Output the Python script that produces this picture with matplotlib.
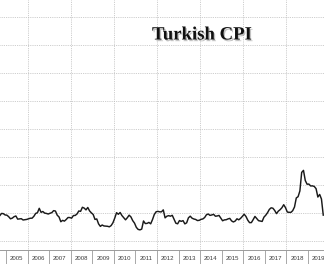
import numpy as np
import matplotlib
matplotlib.use("Agg")
import matplotlib.pyplot as plt
import matplotlib.patheffects as pe
from matplotlib.ticker import FixedLocator, NullFormatter

# Turkish CPI, YoY %, monthly, Jan 2004 - Sep 2019
cpi_2004 = [16.22, 14.28, 11.83, 10.18, 8.88, 8.93, 9.57, 10.04, 9.02, 9.86, 9.79, 9.32]
cpi_2005 = [9.24, 8.69, 7.94, 8.18, 8.70, 8.95, 7.82, 7.91, 7.99, 7.52, 7.61, 7.72]
cpi_2006 = [7.93, 8.15, 8.16, 8.83, 9.86, 10.12, 11.69, 10.26, 10.55, 9.98, 9.86, 9.65]
cpi_2007 = [9.93, 10.16, 10.86, 10.72, 9.23, 8.60, 6.90, 7.39, 7.12, 7.70, 8.40, 8.39]
cpi_2008 = [8.17, 9.10, 9.15, 9.66, 10.74, 10.61, 12.06, 11.77, 11.13, 11.99, 10.76, 10.06]
cpi_2009 = [9.50, 7.73, 7.89, 6.13, 5.24, 5.73, 5.39, 5.33, 5.27, 5.08, 5.53, 6.53]
cpi_2010 = [8.19, 10.13, 9.56, 10.19, 9.10, 8.37, 7.58, 8.33, 9.24, 8.62, 7.29, 6.40]
cpi_2011 = [4.90, 4.16, 3.99, 4.26, 7.17, 6.24, 6.31, 6.65, 6.15, 7.66, 9.48, 10.45]
cpi_2012 = [10.61, 10.43, 10.43, 11.14, 8.28, 8.87, 9.07, 8.88, 9.19, 7.80, 6.37, 6.16]
cpi_2013 = [7.31, 7.03, 7.29, 6.13, 6.51, 8.30, 8.88, 8.17, 7.88, 7.71, 7.32, 7.40]
cpi_2014 = [7.75, 7.89, 8.39, 9.38, 9.66, 9.16, 9.32, 9.54, 8.86, 8.96, 9.15, 8.17]
cpi_2015 = [7.24, 7.55, 7.61, 7.91, 8.09, 7.20, 6.81, 7.14, 7.95, 7.58, 8.10, 8.81]
cpi_2016 = [9.58, 8.78, 7.46, 6.57, 6.58, 7.64, 8.79, 8.05, 7.28, 7.16, 7.00, 8.53]
cpi_2017 = [9.22, 10.13, 11.29, 11.87, 11.72, 10.90, 9.79, 10.68, 11.20, 11.90, 12.98, 11.92]
cpi_2018 = [10.35, 10.26, 10.23, 10.85, 12.15, 15.39, 15.85, 17.90, 24.52, 25.24, 21.62, 20.30]
cpi_2019 = [20.35, 19.67, 19.71, 19.50, 18.71, 15.72, 16.65, 15.01, 9.26]

start_year = 2004
tick_years = list(range(2004, 2020))
tick_labels = [str(y) for y in tick_years]

values = (cpi_2004 + cpi_2005 + cpi_2006 + cpi_2007 + cpi_2008 + cpi_2009 +
          cpi_2010 + cpi_2011 + cpi_2012 + cpi_2013 + cpi_2014 + cpi_2015 +
          cpi_2016 + cpi_2017 + cpi_2018 + cpi_2019)
t = start_year + (np.arange(len(values)) + 0.5) / 12.0

fig = plt.figure(figsize=(3.24, 2.64), dpi=100)
ax = fig.add_axes([0, 14 / 264, 1, 250 / 264])

ax.plot(t, values, color="#1a1a1a", lw=1.05, solid_joinstyle="round")

ax.set_xlim(2004.722, 2019.743)
ax.set_ylim(-3.2, 86.1)

# grid
for yv in range(0, 90, 10):
    ax.axhline(yv, color="#bdbdbd", lw=0.6, ls=(0, (1, 1.2)), zorder=0)
for xv in range(2006, 2020, 2):
    ax.axvline(xv, color="#bdbdbd", lw=0.6, ls=(0, (1, 1.2)), zorder=0)

for s in ["top", "right", "left"]:
    ax.spines[s].set_visible(False)
ax.spines["bottom"].set_color("#9a9a9a")
ax.spines["bottom"].set_linewidth(0.7)

ax.set_yticks([])
ax.xaxis.set_major_locator(FixedLocator([y + 0.5 for y in tick_years]))
ax.set_xticklabels(tick_labels, fontsize=4.3, color="#3a3a3a", family="Liberation Sans")
ax.tick_params(axis="x", which="major", length=0, pad=4.2)
ax.xaxis.set_minor_locator(FixedLocator(tick_years + [2020]))
ax.xaxis.set_minor_formatter(NullFormatter())
ax.tick_params(axis="x", which="minor", length=12, width=0.6, color="#9a9a9a")

fig.text(202 / 324, 1 - 35 / 264, "Turkish CPI", ha="center", va="center",
         fontsize=13.5, fontweight="bold", family="Liberation Serif", color="#111111",
         path_effects=[pe.withSimplePatchShadow(offset=(1.0, -1.2), shadow_rgbFace="#888888", alpha=0.5)])

fig.savefig("out.png", dpi=100)
